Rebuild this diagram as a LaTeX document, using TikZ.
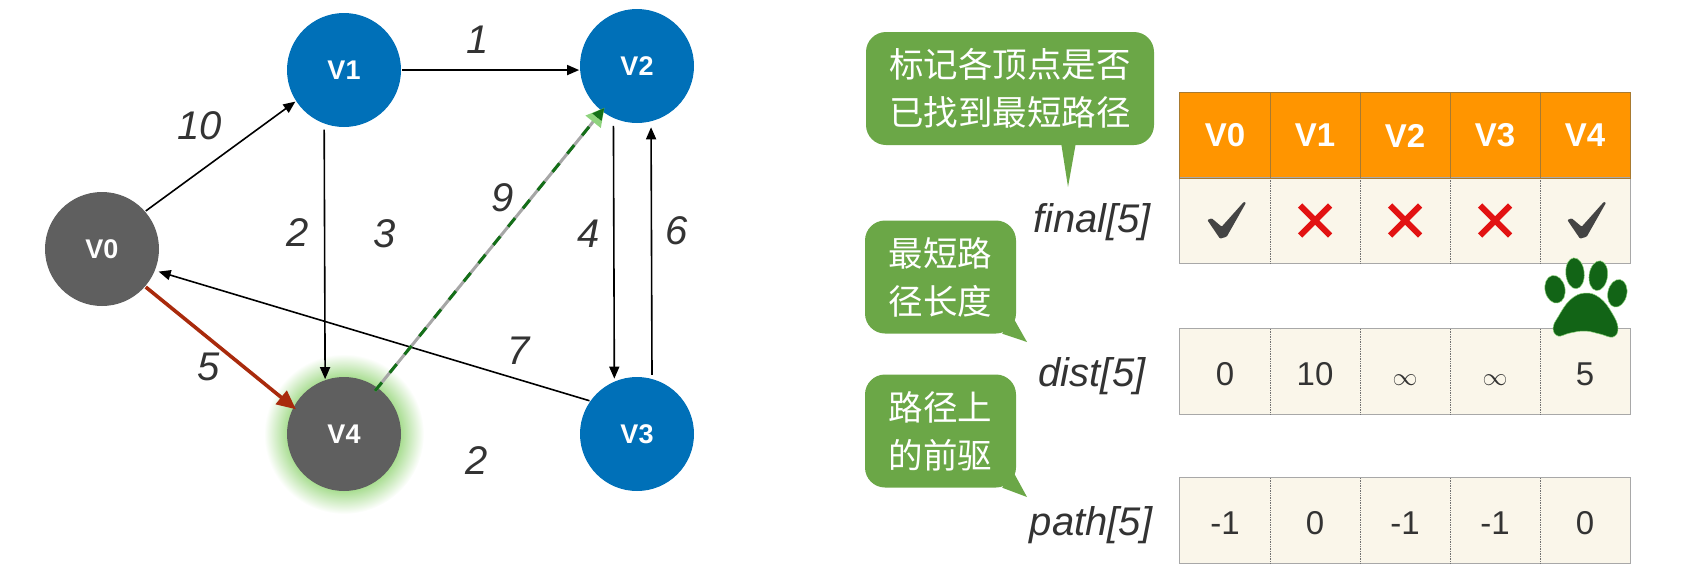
\documentclass[tikz,border=0pt]{standalone}
\usepackage{fontspec}
\setmainfont{Liberation Sans}
\newfontfamily\cjkfont{Noto Sans CJK SC}
\usetikzlibrary{positioning, arrows.meta, backgrounds}
\definecolor{vblue}{HTML}{0070B8}
\definecolor{vgray}{HTML}{5F5F5F}
\definecolor{glowgreen}{HTML}{A6DC8E}
\definecolor{pathred}{HTML}{A92A0C}
\definecolor{pathgreen}{HTML}{146F18}
\definecolor{tipgreen}{HTML}{8FD37E}
\definecolor{bubblegreen}{HTML}{6BA747}
\definecolor{headorange}{HTML}{FF9500}
\definecolor{headline}{HTML}{A87A30}
\definecolor{cellcream}{HTML}{FAF6EA}
\definecolor{cellline}{HTML}{A8A8A8}
\definecolor{markgray}{HTML}{444444}
\definecolor{crossred}{HTML}{E21212}
\pgfdeclareradialshading{vglow}{\pgfpoint{0bp}{0bp}}{color(0bp)=(glowgreen); color(17.5bp)=(glowgreen); color(25bp)=(white); color(50bp)=(white)}
\tikzset{
  vertexblue/.style={circle, minimum size=114pt, inner sep=0pt, outer sep=1pt, fill=vblue, text=white, font=\bfseries\fontsize{27pt}{30pt}\selectfont},
  vertexgray/.style={vertexblue, fill=vgray},
  weight/.style={font=\fontsize{40pt}{42pt}\selectfont\itshape, text=black!80},
  edgearrow/.style={line width=1.6pt, -{Triangle[length=12pt,width=10pt]}, black},
  redarrow/.style={line width=3.6pt, -{Triangle[length=19pt,width=17pt]}, draw=pathred, fill=pathred},
  basearrow/.style={line width=3pt, draw=black!35, -{Triangle[length=18pt,width=19pt,color=tipgreen]}},
  dasharrow/.style={line width=3pt, draw=pathgreen, dash pattern=on 11pt off 12.5pt, -{Triangle[length=12pt,width=11pt]}},
  headcell/.style={rectangle, minimum width=90pt, minimum height=85pt, inner sep=0pt, fill=headorange, text=white, font=\bfseries\fontsize{33pt}{36pt}\selectfont},
  cell/.style={rectangle, minimum width=90pt, minimum height=85pt, inner sep=0pt, text height=28pt, text depth=0pt, fill=cellcream, text=black!80, font=\fontsize{33pt}{36pt}\selectfont},
  headframe/.style={draw=headline, line width=0.9pt},
  frame/.style={draw=cellline, line width=1.3pt},
  cellsep/.style={draw=black!55, line width=0.7pt, densely dotted},
  arrayname/.style={font=\fontsize{40pt}{42pt}\selectfont\itshape, text=black!80},
  bubble/.style={rectangle, rounded corners=20pt, fill=bubblegreen, text=white, inner sep=0pt, align=center, minimum height=113pt, font=\cjkfont\fontsize{34.5pt}{48pt}\selectfont},
  bubbletail/.style={fill=bubblegreen},
  yesmark/.style={fill=markgray, rounded corners=1pt},
  nomark/.style={draw=crossred, line width=6pt},
  pawgreen/.style={fill=pathgreen!90!black, draw=tipgreen, line width=0.5pt}
}
\newcommand{\drawyes}[1]{\fill[yesmark, shift={(#1)}] (-17.7,-0.5) -- (-13.3,-2.2) -- (-3.3,6.2) -- (19,-18.8) -- (21,-17.8) -- (1.7,16.2) -- (-5,18.2) -- cycle;}
\newcommand{\drawno}[1]{\draw[nomark, shift={(#1)}] (-15,-15) -- (15,15) (-15,15) -- (15,-15);}
\begin{document}
\begin{tikzpicture}[x=1pt, y=-1pt, on grid]
    \useasboundingbox (0,0) rectangle (1697,574);

    % --- Vertices ---
    \node (V0) [vertexgray] at (102,249) {V0};
    \node (V1) [vertexblue, above right=179pt and 242pt of V0] {V1};
    \node (V2) [vertexblue, above right=4pt and 293pt of V1] {V2};
    \node (V4) [vertexgray, below=364pt of V1] {V4};
    \node (V3) [vertexblue, below=368pt of V2] {V3};
    \begin{scope}[on background layer]
        \shade[shading=vglow] (V4) circle (80);
    \end{scope}

    % --- Edges ---
    \draw [edgearrow] (V0.41) -- (V1.213);
    \draw [edgearrow] (V1.east) -- (V2.184);
    \draw [edgearrow, shorten <=5pt] (V1.250.4) -- (V4.109.6);
    \draw [edgearrow, shorten <=7pt, shorten >=2pt] (V2.246.6) -- (V3.113.4);
    \draw [edgearrow, shorten <=3pt, shorten >=5pt] (V3.75.5) -- (V2.284.5);
    \draw [edgearrow, shorten >=3pt] (V3.145.7) -- (V0.338);
    \draw [redarrow, shorten >=-4pt] (V0.319.7) -- (V4.152.5);
    \draw [basearrow, shorten <=-5pt, shorten >=-5pt] (V4.54.2) -- (V2.232.7);
    \draw [dasharrow, shorten <=-5pt, shorten >=-5pt] (V4.54.2) -- (V2.232.7);

    % --- Weights ---
    \node (w10) [weight] at (200,126) {10};
    \node (w1) [weight] at (478,40) {1};
    \node (w2) [weight] at (298,233) {2};
    \node (w3) [weight] at (385,234) {3};
    \node (w9) [weight] at (503,198) {9};
    \node (w4) [weight] at (589,234) {4};
    \node (w6) [weight] at (677,231) {6};
    \node (w7) [weight] at (519,351) {7};
    \node (w5) [weight] at (209,367) {5};
    \node (w2b) [weight] at (477,461) {2};

    % --- Table head ---
    \node (h0) [headcell] at (1225,135.5) {V0};
    \node (h1) [headcell, right=90pt of h0] {V1};
    \node (h2) [headcell, right=90pt of h1] {V2};
    \node (h3) [headcell, right=90pt of h2] {V3};
    \node (h4) [headcell, right=90pt of h3] {V4};

    % --- final ---
    \node (f0) [cell, below=85pt of h0] {};
    \node (f1) [cell, right=90pt of f0] {};
    \node (f2) [cell, right=90pt of f1] {};
    \node (f3) [cell, right=90pt of f2] {};
    \node (f4) [cell, right=90pt of f3] {};

    % --- dist ---
    \node (d0) [cell, below=151pt of f0] {0};
    \node (d1) [cell, right=90pt of d0] {10};
    \node (d2) [cell, right=90pt of d1] {$\infty$};
    \node (d3) [cell, right=90pt of d2] {$\infty$};
    \node (d4) [cell, right=90pt of d3] {5};

    % --- path ---
    \node (p0) [cell, below=149pt of d0] {-1};
    \node (p1) [cell, right=90pt of p0] {0};
    \node (p2) [cell, right=90pt of p1] {-1};
    \node (p3) [cell, right=90pt of p2] {-1};
    \node (p4) [cell, right=90pt of p3] {0};

    % --- Table lines ---
    \draw [frame] (f0.north west) rectangle (f4.south east);
    \draw [cellsep] (f0.north east) -- (f0.south east);
    \draw [cellsep] (f1.north east) -- (f1.south east);
    \draw [cellsep] (f2.north east) -- (f2.south east);
    \draw [cellsep] (f3.north east) -- (f3.south east);
    \draw [headframe] (h0.north west) rectangle (h4.south east);
    \draw [headframe] (h0.north east) -- (h0.south east);
    \draw [headframe] (h1.north east) -- (h1.south east);
    \draw [headframe] (h2.north east) -- (h2.south east);
    \draw [headframe] (h3.north east) -- (h3.south east);
    \draw [frame] (d0.north west) rectangle (d4.south east);
    \draw [cellsep] (d0.north east) -- (d0.south east);
    \draw [cellsep] (d1.north east) -- (d1.south east);
    \draw [cellsep] (d2.north east) -- (d2.south east);
    \draw [cellsep] (d3.north east) -- (d3.south east);
    \draw [frame] (p0.north west) rectangle (p4.south east);
    \draw [cellsep] (p0.north east) -- (p0.south east);
    \draw [cellsep] (p1.north east) -- (p1.south east);
    \draw [cellsep] (p2.north east) -- (p2.south east);
    \draw [cellsep] (p3.north east) -- (p3.south east);

    % --- Marks ---
    \drawyes{f0}
    \drawno{f1}
    \drawno{f2}
    \drawno{f3}
    \drawyes{f4}

    % --- Array names ---
    \node (nfinal) [arrayname, left=133pt of f0, yshift=-2pt] {final[5]};
    \node (ndist) [arrayname, left=133pt of d0, yshift=-5pt] {dist[5]};
    \node (npath) [arrayname, left=134pt of p0, yshift=-5pt] {path[5]};

    % --- Bubbles ---
    \node (bfinal) [bubble, minimum width=288pt] at (1010,88.5) {标记各顶点是否\\已找到最短路径};
    \node (bdist) [bubble, minimum width=151pt] at (940.5,277) {最短路\\径长度};
    \node (bpath) [bubble, minimum width=151pt] at (940.5,431) {路径上\\的前驱};
    \coordinate (tfinal) at (1068,187);
    \coordinate (tdist) at (1027,342);
    \coordinate (tpath) at (1027,497);
    \fill [bubbletail] ([shift={(51,-3)}]bfinal.south) -- ([shift={(66,-3)}]bfinal.south) -- (tfinal) -- cycle;
    \fill [bubbletail] ([shift={(-3,-16)}]bdist.south east) -- ([shift={(-14,0)}]bdist.south east) -- (tdist) -- cycle;
    \fill [bubbletail] ([shift={(-3,-16)}]bpath.south east) -- ([shift={(-14,0)}]bpath.south east) -- (tpath) -- cycle;

    % --- Paw ---
    \path [pawgreen] (1555,289.3) ellipse [x radius=10, y radius=14, rotate=12];
    \path [pawgreen] (1575,273.3) ellipse [x radius=9.2, y radius=15.5, rotate=5];
    \path [pawgreen] (1598.3,275.7) ellipse [x radius=9.2, y radius=15, rotate=-8];
    \path [pawgreen] (1617.3,293.3) ellipse [x radius=9.5, y radius=14, rotate=-12];
    \path [pawgreen] plot [smooth cycle, tension=0.7] coordinates {(1585,293) (1570,300) (1558,317) (1553,328) (1558,336) (1570,333) (1585,331) (1600,334) (1613,337) (1618,328) (1612,313) (1600,298)};
\end{tikzpicture}
\end{document}
